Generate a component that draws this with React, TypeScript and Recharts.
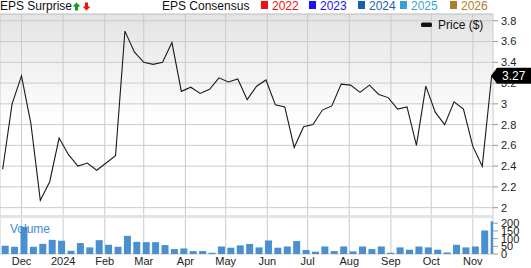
import React from 'react';
import { LineChart, Line, XAxis, YAxis, CartesianGrid, BarChart, Bar, ReferenceLine } from 'recharts';

const weekDates = [
  '2023-11-17', '2023-11-24', '2023-12-01', '2023-12-08', '2023-12-15', '2023-12-22', '2023-12-29',
  '2024-01-05', '2024-01-12', '2024-01-19', '2024-01-26', '2024-02-02', '2024-02-09', '2024-02-16',
  '2024-02-23', '2024-03-01', '2024-03-08', '2024-03-15', '2024-03-22', '2024-03-29', '2024-04-05',
  '2024-04-12', '2024-04-19', '2024-04-26', '2024-05-03', '2024-05-10', '2024-05-17', '2024-05-24',
  '2024-05-31', '2024-06-07', '2024-06-14', '2024-06-21', '2024-06-28', '2024-07-05', '2024-07-12',
  '2024-07-19', '2024-07-26', '2024-08-02', '2024-08-09', '2024-08-16', '2024-08-23', '2024-08-30',
  '2024-09-06', '2024-09-13', '2024-09-20', '2024-09-27', '2024-10-04', '2024-10-11', '2024-10-18',
  '2024-10-25', '2024-11-01', '2024-11-08', '2024-11-15',
];

const prices = [
  2.37, 3.0, 3.27, 2.81, 2.07, 2.25, 2.67, 2.51, 2.4, 2.43, 2.36, 2.43, 2.5, 3.7,
  3.5, 3.4, 3.38, 3.4, 3.59, 3.12, 3.16, 3.1, 3.14, 3.25, 3.21, 3.24, 3.04, 3.17,
  3.23, 2.99, 2.97, 2.58, 2.78, 2.8, 2.94, 2.98, 3.19, 3.18, 3.11, 3.18, 3.09, 3.06,
  2.95, 2.97, 2.6, 3.17, 2.92, 2.8, 3.02, 2.95, 2.59, 2.4, 3.27,
];

const volumes = [
  54, 47, 176, 47, 66, 92, 86, 21, 71, 43, 90, 60, 47, 118,
  79, 77, 77, 58, 32, 36, 19, 19, 8, 49, 41, 56, 65, 43,
  88, 41, 49, 84, 26, 15, 49, 19, 49, 17, 49, 32, 49, 8,
  43, 28, 49, 43, 28, 10, 60, 43, 49, 153, 213,
];

const monthTicks = [
  '2023-12-01', '2024-01-01', '2024-02-01', '2024-03-01', '2024-04-01', '2024-05-01',
  '2024-06-01', '2024-07-01', '2024-08-01', '2024-09-01', '2024-10-01', '2024-11-01',
];
const monthLabels = ['Dec', '2024', 'Feb', 'Mar', 'Apr', 'May', 'Jun', 'Jul', 'Aug', 'Sep', 'Oct', 'Nov'];
const priceTicks = [2, 2.2, 2.4, 2.6, 2.8, 3, 3.2, 3.4, 3.6, 3.8];
const volumeTicks = [0, 50, 100, 150, 200];
const lastPrice = 3.27;

const legendYears = ['2022', '2023', '2024', '2025', '2026'];
const legendColors = ['#ee1111', '#1515f5', '#1c5fae', '#3a9fd0', '#b07c2c'];

const FONT = 'Arial, "Liberation Sans", sans-serif';
const DAY = 86400000;
const toDay = (s: string) => Date.UTC(+s.slice(0, 4), +s.slice(5, 7) - 1, +s.slice(8, 10)) / DAY;

const data = weekDates.map((d, i) => ({ t: toDay(d), price: prices[i], volume: volumes[i] }));
const xDomain: [number, number] = [data[0].t - 2, data[data.length - 1].t + 1];
const barLead = 2; // volume bars start at their week's date
const barDomain: [number, number] = [xDomain[0] - barLead, xDomain[1] - barLead];
const monthTickDays = monthTicks.map(toDay);
const labelFor = (v: number) => monthLabels[monthTickDays.indexOf(v)] ?? '';
// price panel spans the full plot height; lower part is left to the volume panel
const priceDomain: [number, number] = [1.554, 3.865];

const PriceTick = (props: any) => {
  const { x, y, payload } = props;
  if (payload.value === lastPrice) {
    return (
      <g>
        <path
          d={`M${x - 10},${y} L${x - 4},${y - 8} L${x + 31},${y - 8} L${x + 31},${y + 8} L${x - 4},${y + 8} Z`}
          fill="#000"
        />
        <text x={x + 1} y={y} dy="0.36em" fill="#fff" fontSize={12} fontFamily={FONT}>
          {lastPrice.toFixed(2)}
        </text>
      </g>
    );
  }
  return (
    <text x={x} y={y} dy="0.36em" fill="#222" fontSize={11} fontFamily={FONT}>
      {String(payload.value)}
    </text>
  );
};

const VolTick = (props: any) => {
  const { x, y, payload } = props;
  return (
    <text x={x} y={y} dy="0.36em" fill="#222" fontSize={11} fontFamily={FONT}>
      {String(payload.value)}
    </text>
  );
};

const MonthTick = (props: any) => {
  const { x, y, payload } = props;
  return (
    <text x={x} y={y} dy="0.71em" textAnchor="middle" fill="#222" fontSize={11} fontFamily={FONT}>
      {labelFor(payload.value)}
    </text>
  );
};

const legendX = [261, 309, 358, 400, 450];

export default function App() {
  return (
    <div style={{ position: 'absolute', left: 0, top: 0, width: 531, height: 268, background: '#fff', overflow: 'hidden' }}>
      <div style={{ position: 'absolute', left: 0, top: 0 }}>
        <LineChart width={531} height={268} data={data} margin={{ top: 14, right: 0, bottom: 0, left: 0 }}>
          <defs>
            <linearGradient id="bgGrad" x1="0" y1="0" x2="0" y2="1">
              <stop offset="0" stopColor="#e3e3e3" />
              <stop offset="0.45" stopColor="#ffffff" />
              <stop offset="1" stopColor="#ffffff" />
            </linearGradient>
          </defs>
          <CartesianGrid fill="url(#bgGrad)" stroke="#cacaca" horizontalValues={priceTicks} />
          <XAxis
            type="number"
            dataKey="t"
            domain={xDomain}
            ticks={monthTickDays}
            interval={0}
            height={14}
            tickLine={false}
            tickSize={1}
            tickMargin={2}
            axisLine={{ stroke: '#cacaca' }}
            tick={<MonthTick />}
            allowDataOverflow
          />
          <YAxis
            orientation="right"
            width={38}
            domain={priceDomain}
            ticks={[...priceTicks, lastPrice]}
            interval={0}
            allowDataOverflow
            axisLine={false}
            tickSize={5}
            tickMargin={3}
            tickLine={{ stroke: '#999' }}
            tick={<PriceTick />}
          />
          <ReferenceLine y={priceDomain[1]} stroke="#bdbdbd" ifOverflow="visible" />
          <Line
            type="linear"
            dataKey="price"
            stroke="#1a1a1a"
            strokeWidth={1.1}
            dot={false}
            isAnimationActive={false}
          />
        </LineChart>
      </div>
      <div style={{ position: 'absolute', left: 0, top: 215, width: 493, height: 3, background: 'rgba(222,222,222,0.85)' }} />
      <div style={{ position: 'absolute', left: 0, top: 218 }}>
        <BarChart width={531} height={50} data={data} margin={{ top: 0, right: 0, bottom: 14, left: 0 }}>
          <XAxis type="number" dataKey="t" domain={barDomain} hide allowDataOverflow />
          <YAxis
            orientation="right"
            width={38}
            domain={[0, 234]}
            ticks={volumeTicks}
            interval={0}
            allowDataOverflow
            axisLine={false}
            tickSize={5}
            tickMargin={3}
            tickLine={{ stroke: '#999' }}
            tick={<VolTick />}
          />
          <Bar dataKey="volume" fill="#4a8fcf" barSize={7} isAnimationActive={false} />
        </BarChart>
      </div>
      <svg
        width={531}
        height={268}
        style={{ position: 'absolute', left: 0, top: 0, pointerEvents: 'none' }}
        fontFamily={FONT}
      >
        <text x={0} y={10} fontSize={12} fill="#111">EPS Surprise</text>
        <path d="M76.5,2.5 L80.5,6.5 L78,6.5 L78,10.5 L75,10.5 L75,6.5 L72.5,6.5 Z" fill="#1a9a1a" />
        <path d="M86.5,10.5 L90.5,6.5 L88,6.5 L88,2.5 L85,2.5 L85,6.5 L82.5,6.5 Z" fill="#ee1111" />
        <text x={162} y={10} fontSize={12} fill="#111">EPS Consensus</text>
        {legendYears.map((yr, i) => (
          <g key={yr}>
            <rect x={legendX[i]} y={1} width={7} height={8} fill={legendColors[i]} />
            <text x={legendX[i] + 11} y={10} fontSize={12} fill={legendColors[i]}>{yr}</text>
          </g>
        ))}
        <rect x={421} y={22.5} width={11} height={4.5} rx={1.5} fill="#111" />
        <text x={438} y={29} fontSize={12} fill="#111">Price ($)</text>
        <text x={10} y={233} fontSize={12} fill="#3d8bd0">Volume</text>
      </svg>
    </div>
  );
}
